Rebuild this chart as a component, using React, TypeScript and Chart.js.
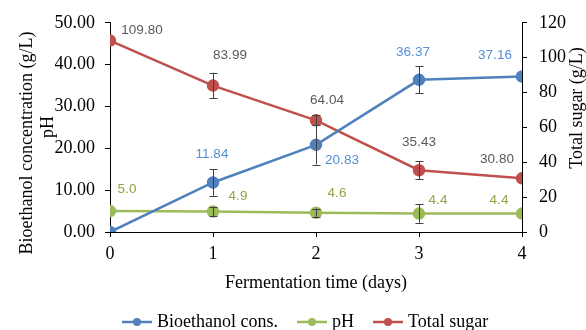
import React, { useEffect, useRef } from "react";
import { Chart, registerables } from "chart.js";

Chart.register(...registerables);

// Fermentation days
const days = [0, 1, 2, 3, 4];

// Bioethanol concentration (g/L), left axis
const bioethanol = [0, 11.84, 20.83, 36.37, 37.16];
const bioethanolErr = [0, 3.2, 4.7, 3.2, 0];

// pH, left axis
const ph = [5.0, 4.9, 4.6, 4.4, 4.4];
const phErr = [0, 1.1, 1.0, 2.2, 0];

// Total sugar (g/L), right axis
const totalSugar = [109.8, 83.99, 64.04, 35.43, 30.8];
const totalSugarErr = [0, 7.4, 2.8, 5.1, 0];

// Label text
const bioLabels = ["", "11.84", "20.83", "36.37", "37.16"];
const phLabels = ["5.0", "4.9", "4.6", "4.4", "4.4"];
const sugarLabels = ["109.80", "83.99", "64.04", "35.43", "30.80"];

// Label offsets from each point (px)
const bioOffsets = [[0, 0], [-1, -28], [26, 15], [-6, -28], [-27, -21]];
const phOffsets = [[17, -22], [25, -15], [21, -19], [19, -13], [-23, -13]];
const sugarOffsets = [[32, -10], [17, -30], [11, -20], [0, -28], [-25, -19]];

const BLUE = "#4F81BD";
const GREEN = "#9BBB59";
const RED = "#C0504D";
const SERIF = "'Liberation Serif', 'Times New Roman', serif";
const SANS = "'Liberation Sans', Arial, sans-serif";

const extrasPlugin = {
  id: "extras",
  afterDatasetsDraw(chart: any) {
    const ctx = chart.ctx;
    const x = chart.scales.x;
    const errs = [bioethanolErr, phErr, totalSugarErr];
    const values = [bioethanol, ph, totalSugar];
    const axes = ["y", "y", "y1"];
    ctx.save();
    ctx.strokeStyle = "#404040";
    ctx.lineWidth = 1;
    for (let s = 0; s < 3; s++) {
      const yScale = chart.scales[axes[s]];
      for (let i = 0; i < days.length; i++) {
        const e = errs[s][i];
        if (!e) continue;
        const px = Math.round(x.getPixelForValue(days[i])) + 0.5;
        const top = yScale.getPixelForValue(values[s][i] + e);
        const bot = yScale.getPixelForValue(values[s][i] - e);
        ctx.beginPath();
        ctx.moveTo(px, top);
        ctx.lineTo(px, bot);
        ctx.moveTo(px - 4, Math.round(top) + 0.5);
        ctx.lineTo(px + 4, Math.round(top) + 0.5);
        ctx.moveTo(px - 4, Math.round(bot) + 0.5);
        ctx.lineTo(px + 4, Math.round(bot) + 0.5);
        ctx.stroke();
      }
    }
    // value labels
    const groups = [
      { labels: bioLabels, offs: bioOffsets, vals: bioethanol, axis: "y", color: "#558ED5" },
      { labels: phLabels, offs: phOffsets, vals: ph, axis: "y", color: "#8FA443" },
      { labels: sugarLabels, offs: sugarOffsets, vals: totalSugar, axis: "y1", color: "#595959" },
    ];
    ctx.font = `13.5px ${SANS}`;
    ctx.textAlign = "center";
    ctx.textBaseline = "middle";
    for (const g of groups) {
      ctx.fillStyle = g.color;
      const yScale = chart.scales[g.axis];
      g.labels.forEach((t, i) => {
        if (!t) return;
        const px = x.getPixelForValue(days[i]);
        const py = yScale.getPixelForValue(g.vals[i]);
        ctx.fillText(t, px + g.offs[i][0], py + g.offs[i][1]);
      });
    }
    ctx.restore();
  },
  afterDraw(chart: any) {
    const ctx = chart.ctx;
    ctx.save();
    ctx.fillStyle = "#000";
    ctx.font = `18px ${SERIF}`;
    ctx.textAlign = "center";
    ctx.textBaseline = "middle";
    // left axis titles
    ctx.save();
    ctx.translate(27, 143);
    ctx.rotate(-Math.PI / 2);
    ctx.fillText("Bioethanol concentration (g/L)", 0, 0);
    ctx.restore();
    ctx.save();
    ctx.translate(48, 127);
    ctx.rotate(-Math.PI / 2);
    ctx.fillText("pH", 0, 0);
    ctx.restore();
    // right axis title
    ctx.save();
    ctx.translate(577, 108);
    ctx.rotate(-Math.PI / 2);
    ctx.fillText("Total sugar (g/L)", 0, 0);
    ctx.restore();
    // x axis title
    ctx.fillText("Fermentation time (days)", 316, 283);
    // legend
    const items = [
      { text: "Bioethanol cons.", color: BLUE, x0: 122 },
      { text: "pH", color: GREEN, x0: 297 },
      { text: "Total sugar", color: RED, x0: 373 },
    ];
    const ly = 322;
    ctx.textAlign = "left";
    for (const it of items) {
      ctx.strokeStyle = it.color;
      ctx.lineWidth = 2.5;
      ctx.beginPath();
      ctx.moveTo(it.x0, ly);
      ctx.lineTo(it.x0 + 30, ly);
      ctx.stroke();
      ctx.fillStyle = it.color;
      ctx.beginPath();
      ctx.arc(it.x0 + 15, ly, 4, 0, Math.PI * 2);
      ctx.fill();
      ctx.fillStyle = "#000";
      ctx.fillText(it.text, it.x0 + 35, ly);
    }
    ctx.restore();
  },
};

export default function App() {
  const ref = useRef<HTMLCanvasElement | null>(null);

  useEffect(() => {
    document.body.style.margin = "0";
    const canvas = ref.current;
    if (!canvas) return;
    const tickFont = { family: SERIF, size: 18 };
    const chart = new Chart(canvas, {
      type: "line",
      data: {
        datasets: [
          {
            label: "Bioethanol cons.",
            data: days.map((d, i) => ({ x: d, y: bioethanol[i] })),
            borderColor: BLUE,
            backgroundColor: BLUE,
            borderWidth: 2.5,
            pointRadius: 5,
            yAxisID: "y",
          },
          {
            label: "pH",
            data: days.map((d, i) => ({ x: d, y: ph[i] })),
            borderColor: GREEN,
            backgroundColor: GREEN,
            borderWidth: 2.5,
            pointRadius: 5,
            yAxisID: "y",
          },
          {
            label: "Total sugar",
            data: days.map((d, i) => ({ x: d, y: totalSugar[i] })),
            borderColor: RED,
            backgroundColor: RED,
            borderWidth: 2.5,
            pointRadius: 5,
            yAxisID: "y1",
          },
        ],
      },
      options: {
        responsive: false,
        animation: false,
        layout: { padding: { top: 21, left: 0, right: 0, bottom: 0 } },
        plugins: { legend: { display: false }, tooltip: { enabled: false } },
        scales: {
          x: {
            type: "linear",
            min: 0,
            max: 4,
            ticks: { stepSize: 1, color: "#000", font: tickFont, padding: 6 },
            grid: { display: true, drawOnChartArea: false, drawTicks: true, tickLength: 5, color: "#000" },
            border: { display: true, color: "#000", width: 1 },
            afterFit: (s: any) => {
              s.height = 98;
            },
          },
          y: {
            position: "left",
            min: 0,
            max: 50,
            ticks: {
              stepSize: 10,
              color: "#000",
              font: tickFont,
              padding: 10,
              callback: (v: any) => Number(v).toFixed(2),
            },
            grid: { display: true, drawOnChartArea: false, drawTicks: true, tickLength: 5, color: "#000" },
            border: { display: true, color: "#000", width: 1 },
            afterFit: (s: any) => {
              s.width = 110;
            },
          },
          y1: {
            position: "right",
            min: 0,
            max: 120,
            ticks: { stepSize: 20, color: "#000", font: tickFont, padding: 12 },
            grid: { display: true, drawOnChartArea: false, drawTicks: true, tickLength: 5, color: "#000" },
            border: { display: true, color: "#000", width: 1 },
            afterFit: (s: any) => {
              s.width = 64;
            },
          },
        },
      },
      plugins: [extrasPlugin],
    } as any);
    return () => chart.destroy();
  }, []);

  return (
    <canvas
      ref={ref}
      width={586}
      height={330}
      style={{ display: "block", width: 586, height: 330 }}
    />
  );
}
